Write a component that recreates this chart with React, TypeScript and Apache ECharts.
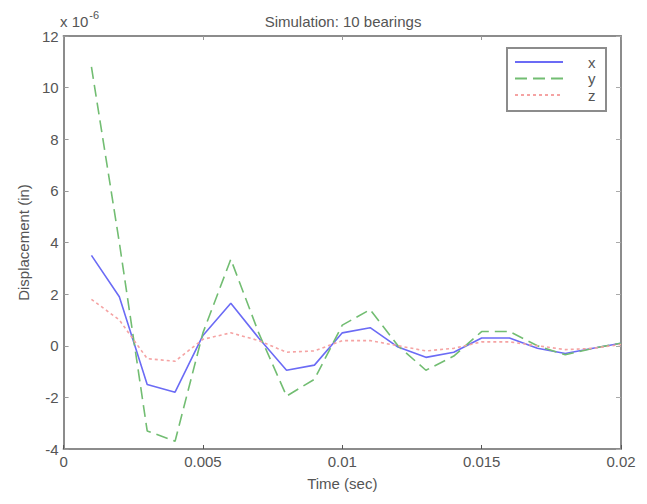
import React, { useEffect, useRef } from "react";
import * as echarts from "echarts";

const times = [0.001, 0.002, 0.003, 0.004, 0.005, 0.006, 0.007, 0.008, 0.009, 0.01, 0.011, 0.012, 0.013, 0.014, 0.015, 0.016, 0.017, 0.018, 0.019, 0.02];
const xDisp = [3.5, 1.9, -1.5, -1.8, 0.4, 1.65, 0.3, -0.95, -0.75, 0.5, 0.7, -0.05, -0.45, -0.25, 0.3, 0.3, -0.1, -0.3, -0.1, 0.1];
const yDisp = [10.8, 4.0, -3.3, -3.7, 0.5, 3.35, 0.5, -1.95, -1.3, 0.8, 1.4, 0.0, -0.95, -0.4, 0.55, 0.55, 0.0, -0.35, -0.1, 0.1];
const zDisp = [1.8, 1.0, -0.5, -0.6, 0.25, 0.5, 0.2, -0.25, -0.2, 0.2, 0.2, 0.0, -0.2, -0.1, 0.15, 0.15, 0.0, -0.15, -0.1, 0.05];
const seriesNames = ["x", "y", "z"];
const colors = ["#6b6bf5", "#72bd72", "#f5a3a3"];
const dashes: any[] = ["solid", [12, 6], [3, 3]];

const toPairs = (vals: number[]) => vals.map((v, i) => [times[i], v]);

export default function App() {
  const ref = useRef<HTMLDivElement>(null);
  useEffect(() => {
    const chart = echarts.init(ref.current!, undefined, { renderer: "svg" });
    const axisColor = "#8c8c8c";
    const textColor = "#555";
    const font = "Liberation Sans, Arial, sans-serif";
    const fs = 15;
    const legendLeft = 498;
    const legendTop = 39;
    const legendGraphics: any[] = [
      {
        type: "rect",
        left: legendLeft,
        top: legendTop,
        shape: { width: 99, height: 63 },
        style: { fill: "#fff", stroke: "#8c8c8c", lineWidth: 2 },
        z: 100,
      },
    ];
    seriesNames.forEach((n, i) => {
      const y = legendTop + 15 + i * 16.5;
      legendGraphics.push({
        type: "line",
        shape: { x1: legendLeft + 9, y1: y, x2: legendLeft + 57, y2: y },
        style: { stroke: colors[i], lineWidth: 2, lineDash: dashes[i] === "solid" ? null : dashes[i] },
        z: 101,
      });
      legendGraphics.push({
        type: "text",
        x: legendLeft + 82,
        y: y,
        style: { text: n, fill: textColor, font: `${fs}px ${font}`, textAlign: "left", textVerticalAlign: "middle" },
        z: 101,
      });
    });
    chart.setOption({
      animation: false,
      backgroundColor: "#fff",
      title: {
        text: "Simulation: 10 bearings",
        left: 330,
        textAlign: "center",
        top: 1,
        textStyle: { fontSize: fs, fontWeight: "normal", color: textColor, fontFamily: font },
      },
      grid: { left: 52, right: 18, top: 28, bottom: 39 },
      xAxis: [
        {
          type: "value",
          min: 0,
          max: 0.02,
          interval: 0.005,
          name: "Time (sec)",
          nameLocation: "middle",
          nameGap: 27,
          nameTextStyle: { fontSize: fs, color: textColor, fontFamily: font },
          axisLine: { onZero: false, lineStyle: { color: axisColor, width: 2 } },
          axisTick: { inside: true, length: 4, lineStyle: { color: "#555" } },
          axisLabel: { fontSize: fs, color: textColor, fontFamily: font, margin: 5, formatter: (v: number) => String(Number(v.toFixed(3))) },
          splitLine: { show: false },
        },
        {
          type: "value",
          position: "top",
          min: 0,
          max: 0.02,
          interval: 0.005,
          axisLine: { show: true, onZero: false, lineStyle: { color: axisColor, width: 2 } },
          axisTick: { inside: true, length: 4, lineStyle: { color: "#999" } },
          axisLabel: { show: false },
          splitLine: { show: false },
        },
      ],
      yAxis: [
        {
          type: "value",
          min: -4,
          max: 12,
          interval: 2,
          name: "Displacement (in)",
          nameLocation: "middle",
          nameGap: 32,
          nameTextStyle: { fontSize: fs, color: textColor, fontFamily: font },
          axisLine: { onZero: false, lineStyle: { color: axisColor, width: 2 } },
          axisTick: { inside: true, length: 5, lineStyle: { color: "#999" } },
          axisLabel: { fontSize: fs, color: textColor, fontFamily: font, margin: 5 },
          splitLine: { show: false },
        },
        {
          type: "value",
          position: "right",
          min: -4,
          max: 12,
          interval: 2,
          axisLine: { show: true, onZero: false, lineStyle: { color: axisColor, width: 2 } },
          axisTick: { inside: true, length: 5, lineStyle: { color: "#aaa" } },
          axisLabel: { show: false },
          splitLine: { show: false },
        },
      ],
      graphic: [
        {
          type: "text",
          left: 52,
          top: 1,
          style: {
            text: "{b|x 10}{s|-6}",
            rich: {
              b: { fontSize: fs, fill: textColor, fontFamily: font, verticalAlign: "bottom" },
              s: { fontSize: 11, fill: textColor, fontFamily: font, verticalAlign: "top", padding: [0, 0, 9, 1] },
            },
          },
        },
        ...legendGraphics,
      ],
      series: [
        { name: "x", type: "line", data: toPairs(xDisp), showSymbol: false, lineStyle: { color: colors[0], width: 1.6, type: "solid" } },
        { name: "y", type: "line", data: toPairs(yDisp), showSymbol: false, lineStyle: { color: colors[1], width: 1.6, type: [12, 6] } },
        { name: "z", type: "line", data: toPairs(zDisp), showSymbol: false, lineStyle: { color: colors[2], width: 1.6, type: [3, 3] } },
      ],
    });
    return () => chart.dispose();
  }, []);
  return <div ref={ref} style={{ width: 631, height: 488 }} />;
}
